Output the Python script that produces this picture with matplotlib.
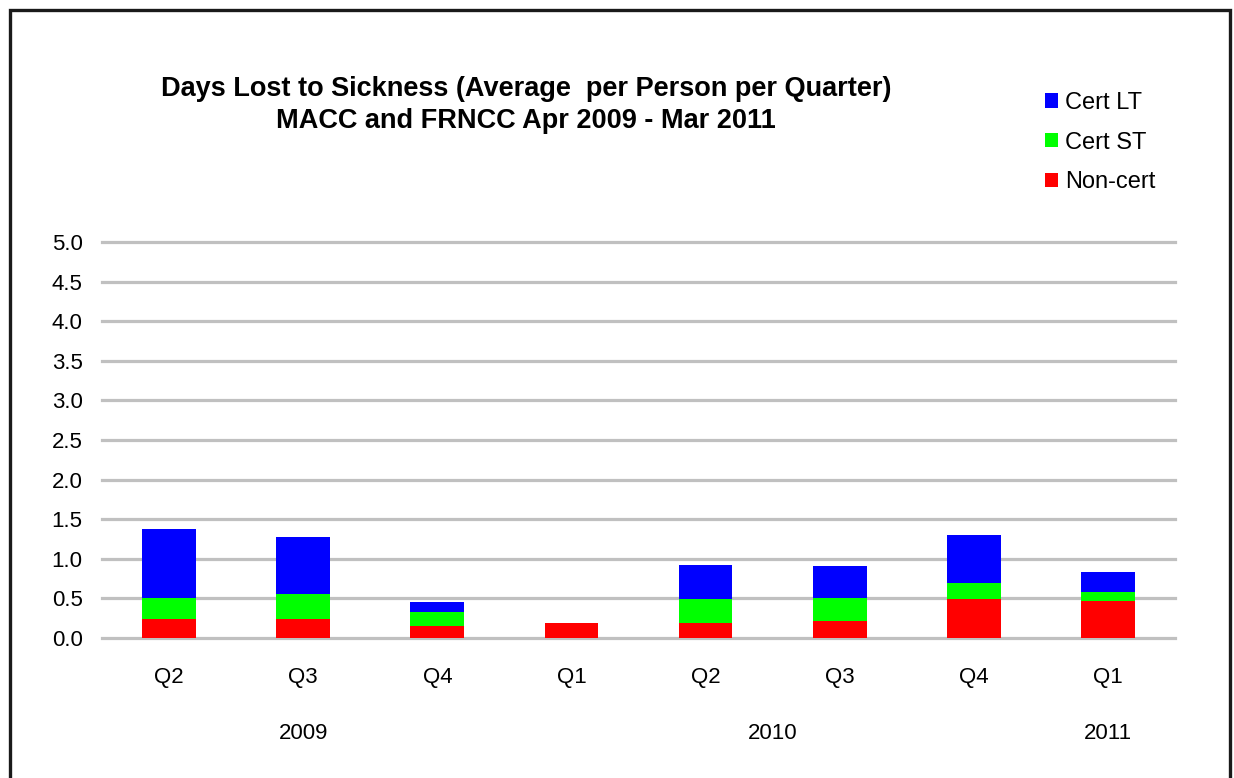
import matplotlib
matplotlib.use("Agg")
import matplotlib.pyplot as plt
from matplotlib.patches import Rectangle

plt.rcParams['font.family'] = ['Liberation Sans', 'DejaVu Sans']

quarters = ["Q2", "Q3", "Q4", "Q1", "Q2", "Q3", "Q4", "Q1"]
years = ["2009", "2010", "2011"]
year_spans = [(0, 2), (3, 6), (7, 7)]

non_cert = [0.24, 0.24, 0.15, 0.19, 0.19, 0.21, 0.49, 0.47]
cert_st = [0.27, 0.31, 0.18, 0.00, 0.30, 0.29, 0.20, 0.11]
cert_lt = [0.87, 0.72, 0.13, 0.00, 0.43, 0.41, 0.61, 0.25]

W, H = 1234, 778
fig = plt.figure(figsize=(W / 100, H / 100), dpi=100)

# outer chart frame (bottom edge runs off the canvas)
fig.patches.append(Rectangle((10 / W, -0.05), 1220 / W, 1.05 - 10 / H,
                             transform=fig.transFigure, fill=False,
                             edgecolor="#1a1a1a", linewidth=2.4))

ax = fig.add_axes([102 / W, 1 - 638 / H, (1175 - 102) / W, (638 - 242) / H])
x = list(range(len(quarters)))
bw = 0.40
b1 = ax.bar(x, non_cert, bw, color="#FF0000", label="Non-cert", zorder=3)
b2 = ax.bar(x, cert_st, bw, bottom=non_cert, color="#00FF00", label="Cert ST", zorder=3)
bottom3 = [a + b for a, b in zip(non_cert, cert_st)]
b3 = ax.bar(x, cert_lt, bw, bottom=bottom3, color="#0000FF", label="Cert LT", zorder=3)

ax.set_xlim(-0.5, len(quarters) - 0.5)
ax.set_ylim(0, 5.0)
yt = [i * 0.5 for i in range(11)]
ax.set_yticks(yt)
ax.set_yticklabels([f"{v:.1f}" for v in yt], fontsize=16)
ax.yaxis.grid(True, color="#C0C0C0", linewidth=2.3, zorder=0)
for gl in ax.get_ygridlines():
    gl.set_clip_on(False)
ax.set_axisbelow(True)
for s in ax.spines.values():
    s.set_visible(False)
ax.tick_params(axis="y", length=0, pad=14)
ax.tick_params(axis="x", length=0, pad=21)
ax.set_xticks(x)
ax.set_xticklabels(quarters, fontsize=16)

# second level of the category axis: years
for yr, (a, b) in zip(years, year_spans):
    ax.text((a + b) / 2, -0.241, yr, transform=ax.get_xaxis_transform(),
            ha="center", va="center", fontsize=16)

fig.text(526 / W, 1 - 105 / H,
         "Days Lost to Sickness (Average  per Person per Quarter)\nMACC and FRNCC Apr 2009 - Mar 2011",
         ha="center", va="center", fontsize=19.5, fontweight="bold", linespacing=1.33)

fig.legend(handles=[b3, b2, b1], labels=["Cert LT", "Cert ST", "Non-cert"],
           loc="upper left", bbox_to_anchor=(1033 / W, 1 - 80 / H),
           frameon=False, fontsize=17, handlelength=0.55, handleheight=0.55,
           handletextpad=0.3, labelspacing=0.75, borderpad=0)

fig.savefig("out.png", dpi=100)
